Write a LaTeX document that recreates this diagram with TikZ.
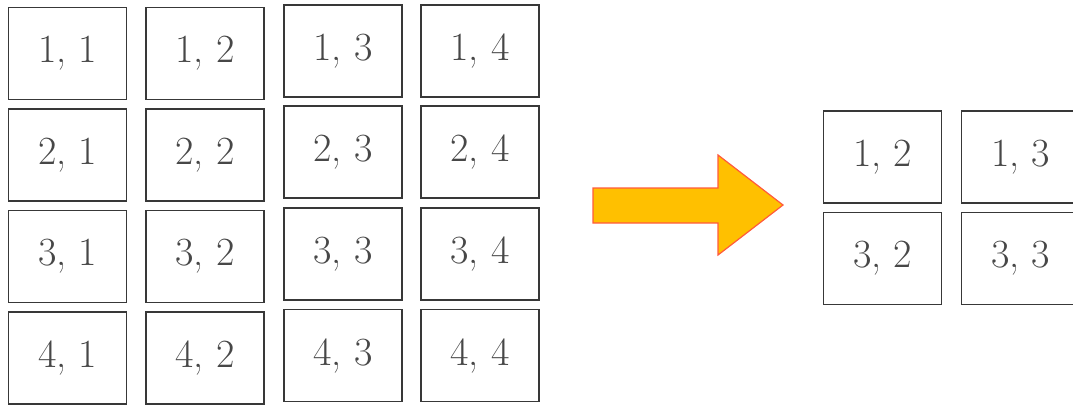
\documentclass[tikz,border=0pt]{standalone}
\definecolor{arrowfill}{HTML}{FFC000}
\definecolor{arrowline}{HTML}{FF5A3C}
\begin{document}
\begin{tikzpicture}[x=1pt,y=-1pt,
  cell/.style={draw=black!78, line width=1.8pt, fill=white, minimum width=118pt, minimum height=92pt,
    inner sep=0pt, text=black!72, font=\fontsize{40}{42}\selectfont},
  bigarrow/.style={fill=arrowfill, draw=arrowline, line width=1.2pt, line join=miter}]
\useasboundingbox (0,0) rectangle (1073,405);
% left grid
\foreach \r/\ya/\yb in {1/53.5/51, 2/155/152, 3/256.5/254, 4/358/355.5}{
  \node[cell] (a\r1) at (67.5,\ya) {\r, 1};
  \node[cell] (a\r2) at (205,\ya) {\r, 2};
  \node[cell] (a\r3) at (343,\yb) {\r, 3};
  \node[cell] (a\r4) at (480,\yb) {\r, 4};
}
% arrow
\path[bigarrow] (593,188) -- (718,188) -- (718,155) -- (783,205) -- (718,255) -- (718,223) -- (593,223) -- cycle;
% right grid
\node[cell] (b12) at (882.5,157) {1, 2};
\node[cell] (b13) at (1020.5,157) {1, 3};
\node[cell] (b32) at (882.5,258.5) {3, 2};
\node[cell] (b33) at (1020.5,258.5) {3, 3};
\end{tikzpicture}
\end{document}
